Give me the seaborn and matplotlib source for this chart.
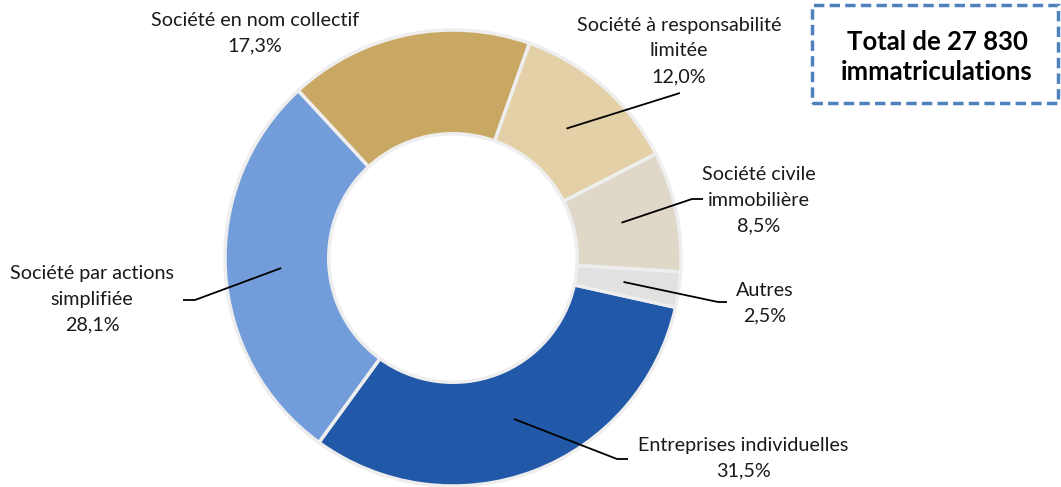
import numpy as np
import matplotlib
matplotlib.use("Agg")
import matplotlib.pyplot as plt
import seaborn as sns
from matplotlib.patches import Rectangle

# ---- data ----
categories = ["Entreprises individuelles", "Société par actions\nsimplifiée",
              "Société en nom collectif", "Société à responsabilité\nlimitée",
              "Société civile\nimmobilière", "Autres"]
shares = [31.5, 28.1, 17.3, 12.0, 8.5, 2.5]
total_label = "Total de 27 830\nimmatriculations"

# ---- style ----
sns.set_theme(style="white")
plt.rcParams['font.family'] = ['Lato', 'DejaVu Sans']
colors = ["#2158A8", "#729DDA", "#C8A862", "#E3D0A6", "#DFD8C8", "#E1E1E1"]

W, H = 1061, 487
fig = plt.figure(figsize=(W / 100, H / 100), dpi=100)
ax = fig.add_axes([0, 0, 1, 1])

cx, cy, R = 453, 229, 228
wedges, _ = ax.pie(shares, colors=colors, startangle=-12.5, counterclock=False,
                   radius=R, center=(cx, cy), frame=True,
                   wedgeprops=dict(width=R * 0.455, edgecolor="#EEEEEE", linewidth=2.5))
ax.set_xlim(0, W)
ax.set_ylim(0, H)
ax.axis("off")

# label layout: (text centre, line elbow, line end) in px from top-left
layout = [
    ((743, 458), (617, 459), (628, 459)),
    ((92, 299), (195, 300), (183, 300)),
    ((255, 33), None, None),
    ((679, 51), (680, 93), None),
    ((759, 200), (692, 199), (703, 199)),
    ((765, 303), (718, 302), (727, 302)),
]

for w, cat, val, (tpos, elbow, end) in zip(wedges, categories, shares, layout):
    label = f"{cat}\n{val:.1f}%".replace(".", ",")
    ax.text(tpos[0], H - tpos[1], label, ha="center", va="center",
            fontsize=14.2, linespacing=1.62, color="#1a1a1a")
    if elbow is not None:
        mid = np.deg2rad((w.theta1 + w.theta2) / 2)
        r0 = R * 0.755
        xs = [cx + r0 * np.cos(mid), elbow[0]]
        ys = [cy + r0 * np.sin(mid), H - elbow[1]]
        if end is not None:
            xs.append(end[0])
            ys.append(H - end[1])
        ax.plot(xs, ys, color="black", lw=1.3, solid_capstyle="butt")

# total box
ax.add_patch(Rectangle((812, H - 103), 246, 98, fill=False, edgecolor="#4F81BD",
                       lw=2.5, linestyle=(0, (3, 1.5))))
ax.text(937, H - 57, total_label, ha="center", va="center", fontsize=18.5,
        fontweight="bold", linespacing=1.3, color="black")

fig.savefig("out.png", dpi=100)
